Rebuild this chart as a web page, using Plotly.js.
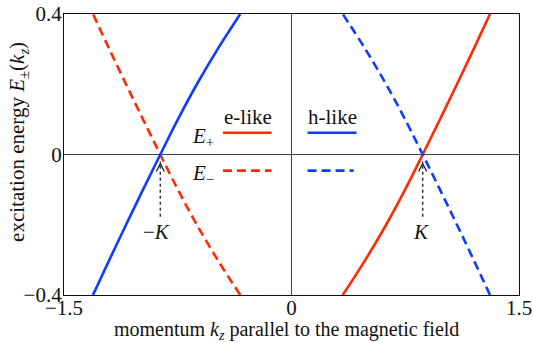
<!DOCTYPE html>
<html>
<head>
<meta charset="utf-8">
<script src="https://cdn.plot.ly/plotly-3.0.1.min.js"></script>
<style>
  html, body { margin: 0; padding: 0; background: #fff; }
  #plotArea { width: 533px; height: 343px; }
</style>
</head>
<body>
<div id="plotArea"></div>
<script>
var energy = [-0.4, -0.3, -0.2, -0.1, 0, 0.1, 0.2, 0.3, 0.4];

// momentum of each branch at those energies
var kElikePlus  = [0.338, 0.487, 0.624, 0.749, 0.865, 0.979, 1.091, 1.201, 1.309];
var kElikeMinus = [-0.338, -0.487, -0.624, -0.749, -0.865, -0.979, -1.091, -1.201, -1.309];
var kHlikePlus  = [-1.309, -1.201, -1.091, -0.979, -0.865, -0.749, -0.624, -0.487, -0.338];
var kHlikeMinus = [1.309, 1.201, 1.091, 0.979, 0.865, 0.749, 0.624, 0.487, 0.338];

var K = 0.865;
var red = "#ff2a00";
var blue = "#0f3cff";
var serif = "Liberation Serif, Times New Roman, serif";

function branch(k, color, dash) {
    return {
        x: k,
        y: energy,
        type: "scatter",
        mode: "lines",
        line: {color: color, width: 2.6, dash: dash, shape: "spline"},
        hoverinfo: "skip",
        showlegend: false
    };
}

var traces = [
    branch(kElikePlus, red, "solid"),
    branch(kElikeMinus, red, "9px,5px"),
    branch(kHlikePlus, blue, "solid"),
    branch(kHlikeMinus, blue, "9px,5px")
];

// little legend drawn inside the plot
function legendLine(x0, x1, y, color, dash) {
    return {type: "line", xref: "x", yref: "y", x0: x0, x1: x1, y0: y, y1: y,
            line: {color: color, width: 2.6, dash: dash}};
}

// dotted arrow pointing up at the crossing
function arrowShaft(x) {
    return {type: "line", xref: "x", yref: "y", x0: x, x1: x, y0: -0.177, y1: -0.02,
            line: {color: "#333", width: 1.5, dash: "dot"}};
}
function arrowHead(x) {
    return {type: "path", xref: "x", yref: "y", xsizemode: "pixel", ysizemode: "pixel",
            xanchor: x, yanchor: 0, path: "M-4,-17 L0,-9 L4,-17",
            line: {color: "#111", width: 1.2}};
}

var shapes = [
    legendLine(-0.452, -0.132, 0.062, red, "solid"),
    legendLine(-0.452, -0.132, -0.046, red, "9px,5px"),
    legendLine(0.106, 0.429, 0.062, blue, "solid"),
    legendLine(0.106, 0.410, -0.046, blue, "9px,5px"),
    arrowShaft(-K), arrowShaft(K),
    arrowHead(-K), arrowHead(K)
];

function label(x, y, text) {
    return {x: x, y: y, xref: "x", yref: "y", text: text, showarrow: false,
            xanchor: "center", yanchor: "middle",
            font: {family: serif, size: 21, color: "#111"}};
}

var annotations = [
    label(-0.29, 0.108, "e-like"),
    label(0.267, 0.108, "h-like"),
    label(-0.585, 0.05, "<i>E</i><sub>+</sub>"),
    label(-0.585, -0.055, "<i>E</i><sub>\u2212</sub>"),
    label(-K - 0.025, -0.222, "\u2212<i>K</i>"),
    label(K - 0.01, -0.222, "<i>K</i>"),
    // axis titles placed by hand
    {x: 0.488, y: -0.126, xref: "paper", yref: "paper", showarrow: false,
     xanchor: "center", yanchor: "middle",
     text: "momentum <i>k<sub>z</sub></i> parallel to the magnetic field",
     font: {family: serif, size: 20, color: "#111"}},
    {x: -0.101, y: 0.545, xref: "paper", yref: "paper", showarrow: false, textangle: -90,
     xanchor: "center", yanchor: "middle",
     text: "excitation energy <i>E</i><sub>\u00b1</sub>(<i>k<sub>z</sub></i>)",
     font: {family: serif, size: 21, color: "#111"}}
];

var layout = {
    width: 533,
    height: 343,
    margin: {l: 64, r: 14, t: 14, b: 48},
    paper_bgcolor: "#fff",
    plot_bgcolor: "#fff",
    font: {family: serif, size: 21, color: "#111"},
    xaxis: {
        range: [-1.5, 1.5],
        tickvals: [-1.5, 0, 1.5],
        ticktext: ["\u22121.5", "0", "1.5"],
        ticks: "",
        ticklabelstandoff: -6,
        showgrid: false,
        zeroline: true, zerolinecolor: "#444", zerolinewidth: 1,
        showline: true, mirror: true, linecolor: "#111", linewidth: 1.3
    },
    yaxis: {
        range: [-0.4, 0.4],
        tickvals: [-0.4, 0, 0.4],
        ticktext: ["\u22120.4", "0", "0.4"],
        ticks: "",
        ticklabelstandoff: -3,
        showgrid: false,
        zeroline: true, zerolinecolor: "#444", zerolinewidth: 1,
        showline: true, mirror: true, linecolor: "#111", linewidth: 1.3
    },
    shapes: shapes,
    annotations: annotations
};

Plotly.newPlot("plotArea", traces, layout, {displayModeBar: false});
</script>
</body>
</html>
